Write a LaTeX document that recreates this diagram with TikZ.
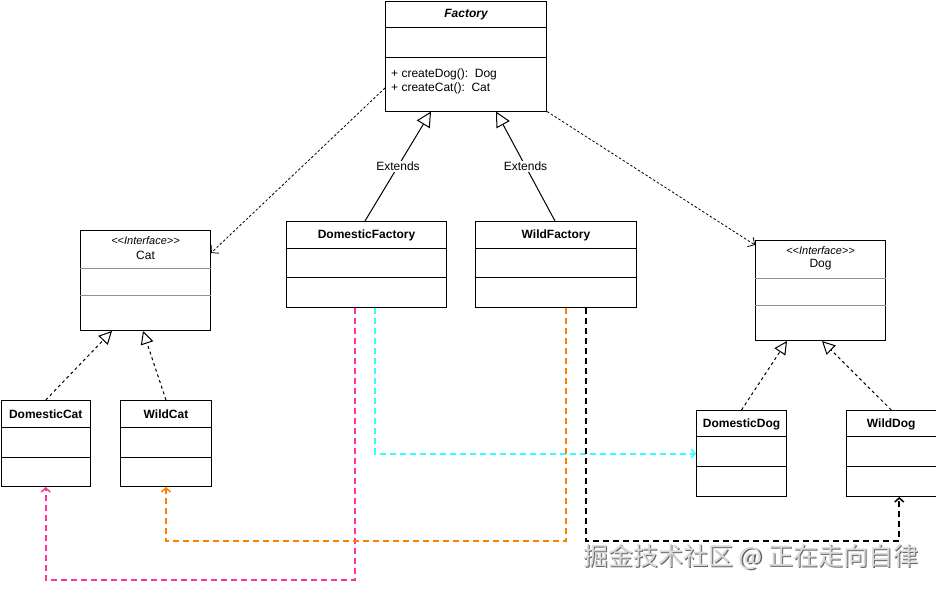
\documentclass[tikz,border=0pt]{standalone}
\usepackage{fontspec}
\setmainfont{Liberation Sans}
\newfontfamily\cjk{Noto Sans CJK SC}
\usetikzlibrary{arrows.meta,calc}
\definecolor{cpink}{HTML}{FF3399}
\definecolor{ccyan}{HTML}{33FFFF}
\definecolor{corange}{HTML}{FF8000}
\definecolor{sepgray}{HTML}{909090}
\tikzset{
  box/.style={draw=black, line width=1pt, rectangle, inner sep=0pt, anchor=north west, fill=white},
  sepl/.style={draw=black, line width=1pt},
  sepg/.style={draw=sepgray, line width=1pt},
  ttl/.style={font=\fontsize{12}{14}\selectfont\bfseries, inner sep=0pt},
  txt/.style={font=\fontsize{12}{14}\selectfont, inner sep=0pt},
  ster/.style={font=\fontsize{11}{13}\selectfont\itshape, inner sep=0pt},
  dep/.style={line width=0.8pt, dash pattern=on 2.5pt off 2pt, -{Straight Barb[length=5pt,width=11pt,line width=0.8pt]}},
  ext/.style={line width=1pt, -{Triangle[open,length=15pt,width=15pt,line width=1pt,fill=white]}},
  impl/.style={line width=1pt, dash pattern=on 3pt off 3pt, -{Triangle[open,length=13pt,width=13pt,line width=1pt,fill=white]}},
  flow/.style={line width=2pt, dash pattern=on 6pt off 4pt, -{Straight Barb[length=4pt,width=9pt,line width=1.5pt]}},
}
\begin{document}
\begin{tikzpicture}[x=1pt,y=-1pt]
\useasboundingbox (0,0) rectangle (936,590);
\fill[white] (0,0) rectangle (936,590);

% Factory
\node[box, minimum width=161pt, minimum height=110pt] (fac) at (385,0.5) {};
\draw[sepl] ([yshift=-27pt]fac.north west) -- ([yshift=-27pt]fac.north east);
\draw[sepl] ([yshift=-57pt]fac.north west) -- ([yshift=-57pt]fac.north east);
\node[ttl, font=\fontsize{12}{14}\selectfont\bfseries\itshape] (fac-t) at ([yshift=-14.5pt]fac.north) {Factory};
\node[txt, anchor=west, align=left] (fac-m) at ([xshift=6pt,yshift=-81pt]fac.north west) {+ createDog():\ \ Dog\\+ createCat():\ \ Cat};

% Cat interface
\node[box, minimum width=130pt, minimum height=100pt] (cat) at (80,230) {};
\draw[sepg] ([yshift=-38pt]cat.north west) -- ([yshift=-38pt]cat.north east);
\draw[sepg] ([yshift=-65pt]cat.north west) -- ([yshift=-65pt]cat.north east);
\node[ster] (cat-s) at ([yshift=-11pt]cat.north) {{<}{<}Interface{>}{>}};
\node[txt] (cat-t) at ([yshift=-25pt]cat.north) {Cat};

% Dog interface
\node[box, minimum width=130pt, minimum height=100pt] (dog) at (755,240) {};
\draw[sepg] ([yshift=-38pt]dog.north west) -- ([yshift=-38pt]dog.north east);
\draw[sepg] ([yshift=-65pt]dog.north west) -- ([yshift=-65pt]dog.north east);
\node[ster] (dog-s) at ([yshift=-11pt]dog.north) {{<}{<}Interface{>}{>}};
\node[txt] (dog-t) at ([yshift=-25pt]dog.north) {Dog};

% DomesticFactory
\node[box, minimum width=160pt, minimum height=86pt] (df) at (286,221) {};
\draw[sepl] ([yshift=-27pt]df.north west) -- ([yshift=-27pt]df.north east);
\draw[sepl] ([yshift=-56pt]df.north west) -- ([yshift=-56pt]df.north east);
\node[ttl] (df-t) at ([yshift=-14.5pt]df.north) {DomesticFactory};

% WildFactory
\node[box, minimum width=161pt, minimum height=86pt] (wf) at (475,221) {};
\draw[sepl] ([yshift=-27pt]wf.north west) -- ([yshift=-27pt]wf.north east);
\draw[sepl] ([yshift=-56pt]wf.north west) -- ([yshift=-56pt]wf.north east);
\node[ttl] (wf-t) at ([yshift=-14.5pt]wf.north) {WildFactory};

% DomesticCat
\node[box, minimum width=89.5pt, minimum height=86pt] (dcat) at (0.5,400) {};
\draw[sepl] ([yshift=-27pt]dcat.north west) -- ([yshift=-27pt]dcat.north east);
\draw[sepl] ([yshift=-57pt]dcat.north west) -- ([yshift=-57pt]dcat.north east);
\node[ttl] (dcat-t) at ([yshift=-14pt]dcat.north) {DomesticCat};

% WildCat
\node[box, minimum width=91pt, minimum height=86pt] (wcat) at (120,400) {};
\draw[sepl] ([yshift=-27pt]wcat.north west) -- ([yshift=-27pt]wcat.north east);
\draw[sepl] ([yshift=-57pt]wcat.north west) -- ([yshift=-57pt]wcat.north east);
\node[ttl] (wcat-t) at ([yshift=-14pt]wcat.north) {WildCat};

% DomesticDog
\node[box, minimum width=90pt, minimum height=86pt] (ddog) at (696,410) {};
\draw[sepl] ([yshift=-26pt]ddog.north west) -- ([yshift=-26pt]ddog.north east);
\draw[sepl] ([yshift=-56pt]ddog.north west) -- ([yshift=-56pt]ddog.north east);
\node[ttl] (ddog-t) at ([yshift=-14pt]ddog.north) {DomesticDog};

% WildDog
\node[box, minimum width=89.5pt, minimum height=86pt] (wdog) at (846,410) {};
\draw[sepl] ([yshift=-26pt]wdog.north west) -- ([yshift=-26pt]wdog.north east);
\draw[sepl] ([yshift=-56pt]wdog.north west) -- ([yshift=-56pt]wdog.north east);
\node[ttl] (wdog-t) at ([yshift=-14pt]wdog.north) {WildDog};

% dependencies from Factory
\draw[dep] ([yshift=-32pt]fac.west) -- ([yshift=-23pt]cat.north east);
\draw[dep] (fac.south east) -- ([yshift=-5pt]dog.north west);

% extends
\draw[ext] ([xshift=79pt]df.north west) -- node[fill=white, txt, inner sep=1pt, pos=0.5] (ext1) {Extends} ([xshift=46pt]fac.south west);
\draw[ext] ([xshift=80pt]wf.north west) -- node[fill=white, txt, inner sep=1pt, pos=0.5] (ext2) {Extends} ([xshift=111pt]fac.south west);

% implementations
\draw[impl] (dcat.north) -- ([xshift=32pt]cat.south west);
\draw[impl] (wcat.north) -- ([xshift=63pt]cat.south west);
\draw[impl] (ddog.north) -- ([xshift=32pt]dog.south west);
\draw[impl] (wdog.north) -- ([xshift=67pt]dog.south west);

% coloured flows
\draw[flow, cpink] ([xshift=69pt]df.south west) |- ([yshift=-93pt]dcat.south) -- (dcat.south);
\draw[flow, ccyan] ([xshift=89pt]df.south west) |- (ddog.west);
\draw[flow, corange] ([xshift=91pt]wf.south west) |- ([yshift=-54pt]wcat.south) -- (wcat.south);
\draw[flow, black] ([xshift=111pt]wf.south west) |- ([xshift=8pt,yshift=-44pt]wdog.south) -- ([xshift=8pt]wdog.south);

% watermark
\node[font=\cjk\fontsize{25}{27}\selectfont, text=black!60, inner sep=0pt, anchor=west] (wm-s) at (584.2,558.2) {掘金技术社区 @ 正在走向自律};
\node[font=\cjk\fontsize{25}{27}\selectfont, text=black!15, inner sep=0pt, anchor=west] (wm) at (583,557) {掘金技术社区 @ 正在走向自律};
\end{tikzpicture}
\end{document}
